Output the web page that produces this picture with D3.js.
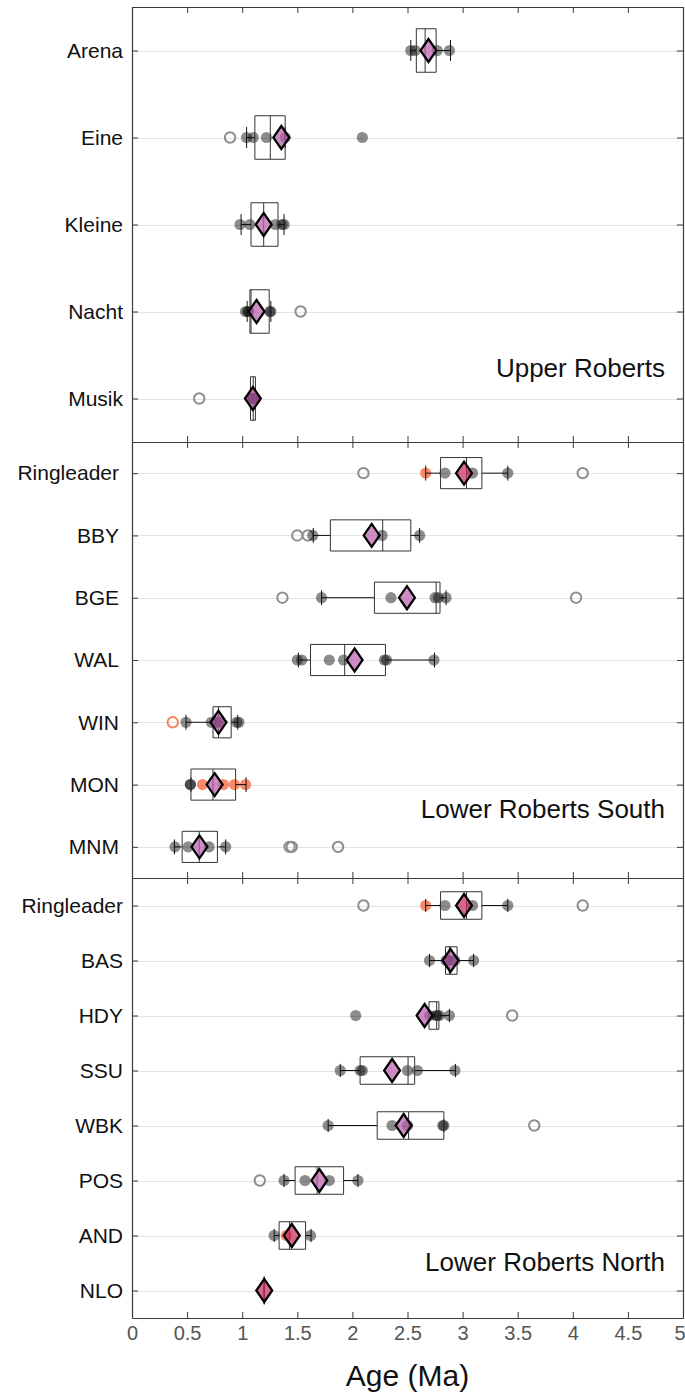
<!DOCTYPE html>
<html>
<head>
<meta charset="utf-8">
<script src="https://cdn.jsdelivr.net/npm/d3@7"></script>
<style>
  html, body { margin: 0; padding: 0; background: #fff; }
  svg { display: block; font-family: "Liberation Sans", Arial, Helvetica, sans-serif; }
</style>
</head>
<body>
<svg id="chart" width="685" height="1396"></svg>
<script>
// ---- data -------------------------------------------------------------
const groupNames = ["Upper Roberts", "Lower Roberts South", "Lower Roberts North"];

const sites = [
  "Arena", "Eine", "Kleine", "Nacht", "Musik",
  "Ringleader", "BBY", "BGE", "WAL", "WIN", "MON", "MNM",
  "Ringleader", "BAS", "HDY", "SSU", "WBK", "POS", "AND", "NLO"
];
const siteGroup = [0, 0, 0, 0, 0, 1, 1, 1, 1, 1, 1, 1, 2, 2, 2, 2, 2, 2, 2, 2];

// accepted ages (Ma)
const ages = [
  [2.53, 2.57, 2.77, 2.88],
  [1.04, 1.10, 1.22, 1.39, 2.09],
  [0.98, 1.07, 1.30, 1.36, 1.38],
  [1.03, 1.05, 1.06, 1.25, 1.26],
  [1.08, 1.09, 1.10, 1.10, 1.11, 1.12],
  [2.84, 3.09, 3.41],
  [1.64, 2.27, 2.61],
  [1.72, 2.35, 2.75, 2.78, 2.85],
  [1.50, 1.54, 1.79, 1.92, 2.29, 2.31, 2.74],
  [0.49, 0.72, 0.76, 0.78, 0.80, 0.95, 0.97],
  [0.53, 0.53],
  [0.39, 0.51, 0.70, 0.85],
  [2.84, 3.09, 3.41],
  [2.70, 2.85, 2.87, 2.89, 2.93, 3.10],
  [2.03, 2.70, 2.76, 2.77, 2.79, 2.88],
  [1.89, 2.07, 2.09, 2.50, 2.59, 2.93],
  [1.78, 2.36, 2.50, 2.82, 2.83],
  [1.38, 1.57, 1.79, 2.05],
  [1.29, 1.62],
  []
];
// accepted ages of the second sample type
const agesOrange = [
  [], [], [], [], [],
  [2.665], [], [], [], [], [0.64, 0.83, 0.93, 1.03], [],
  [2.665], [], [], [], [], [], [1.40], []
];
// rejected ages
const agesRejected = [
  [], [0.89], [], [1.53], [0.61],
  [2.10, 4.09], [1.50, 1.595], [1.365, 4.03], [], [], [], [1.43, 1.45, 1.87],
  [2.10, 4.09], [], [3.45], [], [3.65], [1.16], [], []
];
const agesRejectedOrange = [
  [], [], [], [], [],
  [], [], [], [], [0.37], [], [],
  [], [], [], [], [], [], [], []
];

// box summaries
const whiskerLow  = [2.53, 1.04, 0.99, 1.045, 1.075, 2.665, 1.645, 1.72, 1.51, 0.49, 0.535, 0.385, 2.665, 2.70, 2.695, 1.89, 1.78, 1.38, 1.29, 1.20];
const boxQ1       = [2.58, 1.115, 1.08, 1.07, 1.075, 2.80, 1.80, 2.20, 1.62, 0.735, 0.535, 0.455, 2.80, 2.845, 2.695, 2.07, 2.225, 1.48, 1.335, 1.20];
const boxMedian   = [2.66, 1.255, 1.195, 1.08, 1.10, 3.035, 2.275, 2.76, 1.93, 0.785, 0.735, 0.61, 3.035, 2.88, 2.765, 2.505, 2.51, 1.68, 1.43, 1.20];
const boxQ3       = [2.76, 1.39, 1.325, 1.245, 1.12, 3.175, 2.53, 2.795, 2.30, 0.90, 0.94, 0.775, 3.175, 2.95, 2.785, 2.565, 2.83, 1.92, 1.575, 1.20];
const whiskerHigh = [2.89, 1.39, 1.38, 1.26, 1.12, 3.41, 2.61, 2.85, 2.745, 0.96, 1.035, 0.85, 3.41, 3.10, 2.88, 2.935, 2.83, 2.05, 1.625, 1.20];
const meanAge     = [2.69, 1.355, 1.195, 1.13, 1.097, 3.013, 2.175, 2.495, 2.02, 0.785, 0.75, 0.612, 3.013, 2.89, 2.655, 2.36, 2.465, 1.70, 1.45, 1.20];
const meanGroup   = [0, 0, 0, 0, 0, 1, 0, 0, 0, 0, 0, 0, 1, 0, 0, 0, 0, 0, 1, 1];

const ageTicks = [0, 0.5, 1, 1.5, 2, 2.5, 3, 3.5, 4, 4.5, 5];
const axisTitle = "Age (Ma)";

// ---- layout -------------------------------------------------------------
const plotLeft = 132, plotRight = 683;
const panelBounds = [[7, 442], [442, 878], [878, 1318]];
const labelPad = [9, 13, 9];
const groupLabelFrac = [0.85, 0.862, 0.893];
const meanFill = ["rgb(184,93,170)", "rgb(197,42,90)"];
const axisColor = "#3a3a3a";

const svg = d3.select("#chart");
const x = d3.scaleLinear().domain([0, 5]).range([plotLeft, plotRight]);
const fmt = d3.format("~g");

panelBounds.forEach(([top, bottom], g) => {
  const rows = d3.range(sites.length).filter(i => siteGroup[i] === g);
  const y = d3.scalePoint()
    .domain(rows.map(i => sites[i]))
    .range([top, bottom])
    .padding(0.5);
  const step = y.step();
  const boxH = step * 0.25;
  const capH = step * 0.12;

  const panel = svg.append("g");

  // horizontal grid
  panel.append("g").selectAll("line").data(rows).join("line")
    .attr("x1", plotLeft).attr("x2", plotRight)
    .attr("y1", i => Math.round(y(sites[i])) + 0.5)
    .attr("y2", i => Math.round(y(sites[i])) + 0.5)
    .attr("stroke", "#e3e3e3").attr("stroke-width", 1);

  const flat = (arr) => rows.flatMap(i => arr[i].map(v => ({ v, cy: y(sites[i]) })));

  // rejected ages
  panel.append("g").selectAll("circle").data(flat(agesRejected)).join("circle")
    .attr("cx", d => x(d.v)).attr("cy", d => d.cy).attr("r", 5.2)
    .attr("fill", "none").attr("stroke", "#8e8e8e").attr("stroke-width", 2);
  panel.append("g").selectAll("circle").data(flat(agesRejectedOrange)).join("circle")
    .attr("cx", d => x(d.v)).attr("cy", d => d.cy).attr("r", 5.2)
    .attr("fill", "none").attr("stroke", "#f4845f").attr("stroke-width", 2);

  // accepted ages
  panel.append("g").selectAll("circle").data(flat(ages)).join("circle")
    .attr("cx", d => x(d.v)).attr("cy", d => d.cy).attr("r", 5.6)
    .attr("fill", "#000").attr("fill-opacity", 0.45);
  panel.append("g").selectAll("circle").data(flat(agesOrange)).join("circle")
    .attr("cx", d => x(d.v)).attr("cy", d => d.cy).attr("r", 5.6)
    .attr("fill", "rgb(242,110,70)").attr("fill-opacity", 0.8);

  // whiskers
  const wg = panel.append("g").attr("stroke", "#111").attr("stroke-width", 1).attr("fill", "none");
  rows.forEach(i => {
    const cy = y(sites[i]);
    wg.append("path").attr("d",
      `M${x(whiskerLow[i])},${cy}H${x(boxQ1[i])}` +
      `M${x(boxQ3[i])},${cy}H${x(whiskerHigh[i])}` +
      `M${x(whiskerLow[i])},${cy - capH}V${cy + capH}` +
      `M${x(whiskerHigh[i])},${cy - capH}V${cy + capH}`);
  });

  // boxes with median
  const bg = panel.append("g").attr("stroke", "#333").attr("stroke-width", 1).attr("fill", "none");
  rows.forEach(i => {
    const cy = y(sites[i]);
    const x1 = x(boxQ1[i]), x2 = x(boxQ3[i]), xm = x(boxMedian[i]);
    bg.append("path").attr("d",
      `M${x1},${cy - boxH}H${x2}V${cy + boxH}H${x1}Z` +
      `M${xm},${cy - boxH}V${cy + boxH}`);
  });

  // means
  panel.append("g").selectAll("path").data(rows).join("path")
    .attr("d", i => {
      const cx = x(meanAge[i]), cy = y(sites[i]);
      return `M${cx},${cy - 11.5}L${cx + 8},${cy}L${cx},${cy + 11.5}L${cx - 8},${cy}Z`;
    })
    .attr("fill", i => meanFill[meanGroup[i]]).attr("fill-opacity", 0.71)
    .attr("stroke", "#000").attr("stroke-width", 2.2).attr("stroke-linejoin", "miter");

  // frame and ticks
  const styleAxis = (sel) => {
    sel.selectAll("path.domain").attr("stroke", axisColor).attr("stroke-width", 1.2);
    sel.selectAll(".tick line").attr("stroke", axisColor).attr("stroke-width", 1);
  };

  panel.append("g").attr("transform", `translate(0,${top})`)
    .call(d3.axisTop(x).tickValues(ageTicks).tickSize(-6).tickSizeOuter(0).tickFormat(""))
    .call(styleAxis);

  const isLast = g === panelBounds.length - 1;
  const bx = panel.append("g").attr("transform", `translate(0,${bottom})`)
    .call(d3.axisBottom(x).tickValues(ageTicks).tickSize(-6).tickSizeOuter(0)
      .tickPadding(8).tickFormat(isLast ? fmt : ""))
    .call(styleAxis);
  bx.selectAll("text").attr("font-size", 20).attr("fill", "#555")
    .attr("font-family", "Liberation Sans, Arial, sans-serif");
  // keep the last tick label inside the page
  bx.selectAll(".tick").filter(d => d === ageTicks[ageTicks.length - 1])
    .select("text").attr("text-anchor", "end").attr("dx", 2);

  const ly = panel.append("g").attr("transform", `translate(${plotLeft},0)`)
    .call(d3.axisLeft(y).tickSize(-6).tickSizeOuter(0).tickPadding(labelPad[g]))
    .call(styleAxis);
  ly.selectAll("text").attr("font-size", 21).attr("fill", "#111")
    .attr("font-family", "Liberation Sans, Arial, sans-serif");

  panel.append("g").attr("transform", `translate(${plotRight},0)`)
    .call(d3.axisRight(y).tickSize(-6).tickSizeOuter(0).tickFormat(""))
    .call(styleAxis);

  // group label
  panel.append("text")
    .attr("x", 665).attr("y", top + (bottom - top) * groupLabelFrac[g])
    .attr("text-anchor", "end").attr("font-size", 26).attr("fill", "#111")
    .text(groupNames[g]);
});

svg.append("text")
  .attr("x", (plotLeft + plotRight) / 2).attr("y", 1386)
  .attr("text-anchor", "middle").attr("font-size", 30).attr("fill", "#111")
  .text(axisTitle);
</script>
</body>
</html>
